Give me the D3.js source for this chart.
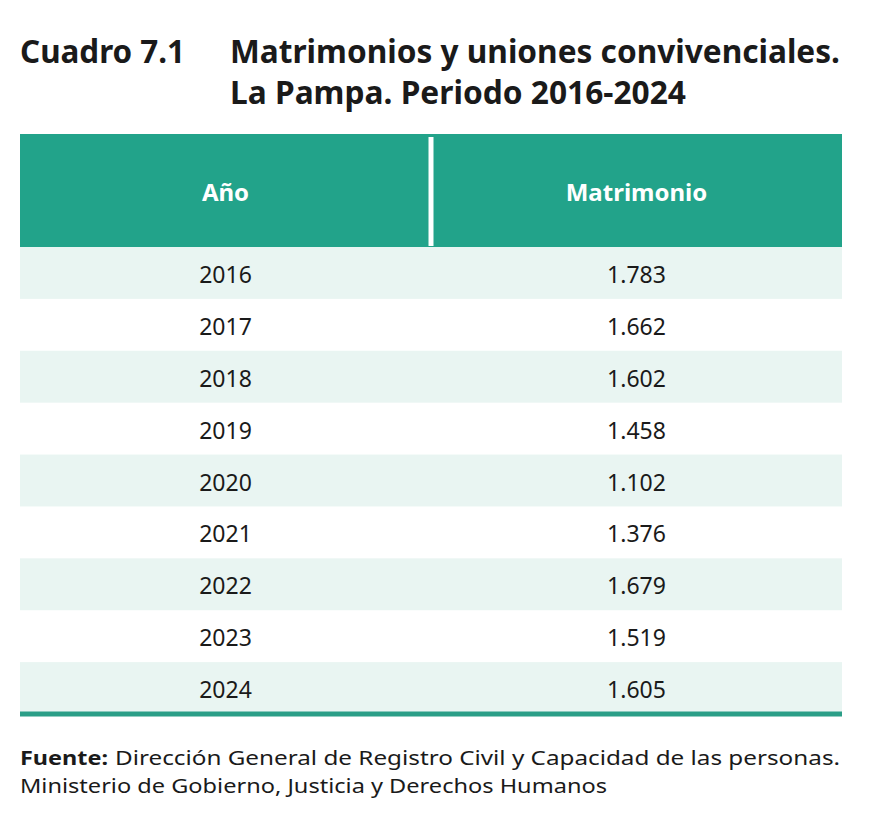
<!DOCTYPE html>
<html>
<head>
<meta charset="utf-8">
<script src="https://cdn.jsdelivr.net/npm/d3@7"></script>
<style>
  body { margin: 0; background: #fff; }
  text { font-family: 'Noto Sans', sans-serif; }
</style>
</head>
<body>
<svg id="chart"></svg>
<script>
// values
const columns = ['Año', 'Matrimonio'];
const years = ['2016', '2017', '2018', '2019', '2020', '2021', '2022', '2023', '2024'];
const matrimonios = [1783, 1662, 1602, 1458, 1102, 1376, 1679, 1519, 1605];

const W = 869, H = 815;
const green = '#22a38a';
const stripe = '#e9f5f2';

const svg = d3.select('#chart')
.attr('width', W)
.attr('height', H);

const es = d3.formatLocale({decimal: ',', thousands: '.', grouping: [3], currency: ['$', '']});
const fmt = es.format(',d');

// title
const title = svg.append('g');
title.append('text')
.attr('x', 20).attr('y', 63)
.attr('textLength', 165).attr('lengthAdjust', 'spacingAndGlyphs')
.style('font-size', '32px').style('font-weight', 700).style('fill', '#1a1a1a')
.text('Cuadro 7.1');
title.append('text')
.attr('x', 230).attr('y', 63)
.attr('textLength', 610).attr('lengthAdjust', 'spacingAndGlyphs')
.style('font-size', '32px').style('font-weight', 700).style('fill', '#1a1a1a')
.text('Matrimonios y uniones convivenciales.');
title.append('text')
.attr('x', 230).attr('y', 104)
.attr('textLength', 456).attr('lengthAdjust', 'spacingAndGlyphs')
.style('font-size', '32px').style('font-weight', 700).style('fill', '#1a1a1a')
.text('La Pampa. Periodo 2016-2024');

// table scales
const x = d3.scaleBand()
.domain(columns)
.range([20, 842]);

const headTop = 134, headBottom = 247;

const y = d3.scaleBand()
.domain(years)
.range([headBottom, 714]);

// header
svg.append('rect')
.attr('x', x.range()[0]).attr('y', headTop)
.attr('width', x.range()[1] - x.range()[0])
.attr('height', headBottom - headTop)
.attr('fill', green);

svg.append('line')
.attr('x1', x('Matrimonio')).attr('x2', x('Matrimonio'))
.attr('y1', headTop + 3).attr('y2', headBottom - 1)
.attr('stroke', '#fff').attr('stroke-width', 5);

svg.selectAll('.head')
.data(columns)
.enter()
.append('text')
.attr('class', 'head')
.attr('x', d => x(d) + x.bandwidth() / 2)
.attr('y', (headTop + headBottom) / 2 + 2)
.attr('dy', '0.35em')
.attr('text-anchor', 'middle')
.style('font-size', '24px').style('font-weight', 700).style('fill', '#fff')
.text(d => d);

// body rows, striped
const rows = years.map((yr, i) => ({year: yr, value: matrimonios[i], i: i}));

svg.selectAll('.stripe')
.data(rows.filter(d => d.i % 2 === 0))
.enter()
.append('rect')
.attr('class', 'stripe')
.attr('x', x.range()[0])
.attr('y', d => y(d.year))
.attr('width', x.range()[1] - x.range()[0])
.attr('height', y.bandwidth())
.attr('fill', stripe);

svg.selectAll('.yr')
.data(rows)
.enter()
.append('text')
.attr('class', 'yr')
.attr('x', x('Año') + x.bandwidth() / 2)
.attr('y', d => y(d.year) + y.bandwidth() / 2 + 2)
.attr('dy', '0.35em')
.attr('text-anchor', 'middle')
.style('font-size', '23px').style('fill', '#1a1a1a')
.text(d => d.year);

svg.selectAll('.val')
.data(rows)
.enter()
.append('text')
.attr('class', 'val')
.attr('x', x('Matrimonio') + x.bandwidth() / 2)
.attr('y', d => y(d.year) + y.bandwidth() / 2 + 2)
.attr('dy', '0.35em')
.attr('text-anchor', 'middle')
.style('font-size', '23px').style('fill', '#1a1a1a')
.text(d => fmt(d.value));

// bottom rule
svg.append('line')
.attr('x1', x.range()[0]).attr('x2', x.range()[1])
.attr('y1', y.range()[1]).attr('y2', y.range()[1])
.attr('stroke', '#2a9e87').attr('stroke-width', 5);

// source note (two lines, kept a touch smaller so they don't collide)
svg.append('text')
.attr('x', 20).attr('y', 765)
.attr('textLength', 88).attr('lengthAdjust', 'spacingAndGlyphs')
.style('font-size', '20px').style('font-weight', 700).style('fill', '#1a1a1a')
.text('Fuente:');

svg.append('text')
.attr('x', 115).attr('y', 765)
.attr('textLength', 725).attr('lengthAdjust', 'spacingAndGlyphs')
.style('font-size', '20px').style('fill', '#1a1a1a')
.text('Dirección General de Registro Civil y Capacidad de las personas.');

svg.append('text')
.attr('x', 20).attr('y', 792.5)
.attr('textLength', 587).attr('lengthAdjust', 'spacingAndGlyphs')
.style('font-size', '20px').style('fill', '#1a1a1a')
.text('Ministerio de Gobierno, Justicia y Derechos Humanos');
</script>
</body>
</html>
